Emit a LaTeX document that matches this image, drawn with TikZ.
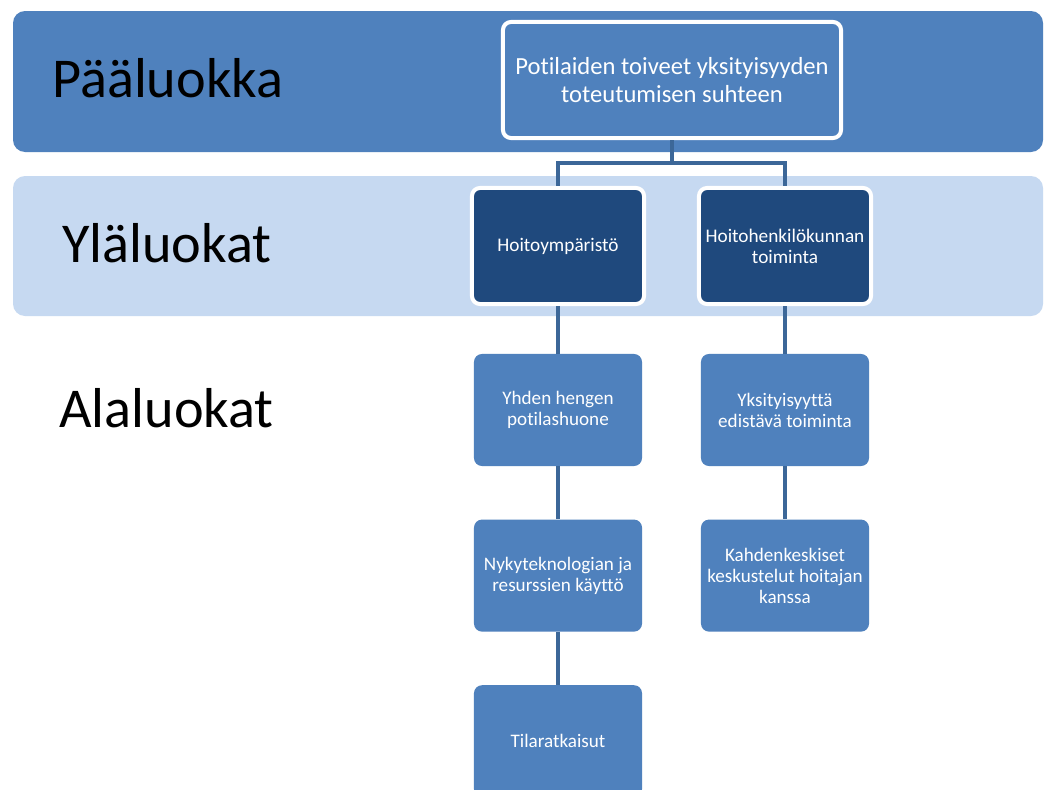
\documentclass[tikz,border=0pt]{standalone}
\usepackage{fontspec}
\setmainfont{Carlito}[Ligatures=NoCommon]
\usetikzlibrary{positioning}

% colours
\definecolor{bandBlue}{HTML}{4F81BD}
\definecolor{bandLight}{HTML}{C6D9F1}
\definecolor{boxDark}{HTML}{1F497D}
\definecolor{lineBlue}{HTML}{3C6798}

\begin{document}
\begin{tikzpicture}[x=0.025cm,y=-0.025cm,
	band/.style={rounded corners=0.3cm},
	biglabel/.style={anchor=base west, inner sep=0pt, font=\fontsize{40}{48}\selectfont},
	paabox/.style={draw=white, line width=0.1cm, fill=bandBlue, rounded corners=0.2cm,
		minimum width=8.45cm, minimum height=2.9cm, text=white, align=center,
		font=\fontsize{17.5}{19.3}\selectfont},
	ylabox/.style={draw=white, line width=0.1cm, fill=boxDark, rounded corners=0.2cm,
		minimum width=4.3cm, minimum height=2.9cm, text=white, align=center,
		font=\fontsize{13.7}{15}\selectfont},
	alabox/.style={fill=bandBlue, rounded corners=0.2cm,
		minimum width=4.2cm, minimum height=2.8cm, text=white, align=center,
		font=\fontsize{13.6}{15}\selectfont},
	conn/.style={draw=lineBlue, line width=0.12cm},
]

	% picture size, the last box runs off the bottom
	\clip (0,0) rectangle (1051,789);
	\fill[white] (0,0) rectangle (1051,789);

	% the two bands
	\fill[band, bandBlue] (13,11) rectangle (1043,152);
	\fill[band, bandLight] (13,176) rectangle (1043,316);

	% level names
	\node[biglabel] (lblPaa) at (52,97) {Pääluokka};
	\node[biglabel] (lblYla) at (62,262) {Yläluokat};
	\node[biglabel] (lblAla) at (59,427) {Alaluokat};

	% main category
	\node[paabox] (paa) at (672,80) {Potilaiden toiveet yksityisyyden\\toteutumisen suhteen};

	% upper categories
	\node[ylabox] (ymp) at (558,246) {Hoitoympäristö};
	\node[ylabox] (hen) at (785,246) {Hoitohenkilökunnan\\toiminta};

	% sub categories
	\node[alabox] (yhden) at (558,410) {Yhden hengen\\potilashuone};
	\node[alabox, below=1.325cm of yhden] (nyky) {Nykyteknologian ja\\resurssien käyttö};
	\node[alabox, below=1.325cm of nyky] (tila) {Tilaratkaisut};
	\node[alabox] (yks) at (785,410) {Yksityisyyttä\\edistävä toiminta};
	\node[alabox, below=1.325cm of yks] (kahd) {Kahdenkeskiset\\keskustelut hoitajan\\kanssa};

	% connectors
	\draw[conn] (paa.south) -- ++(0,23) -| (ymp.north);
	\draw[conn] (paa.south) -- ++(0,23) -| (hen.north);
	\draw[conn] (ymp) -- (yhden);
	\draw[conn] (yhden) -- (nyky);
	\draw[conn] (nyky) -- (tila);
	\draw[conn] (hen) -- (yks);
	\draw[conn] (yks) -- (kahd);

\end{tikzpicture}
\end{document}
